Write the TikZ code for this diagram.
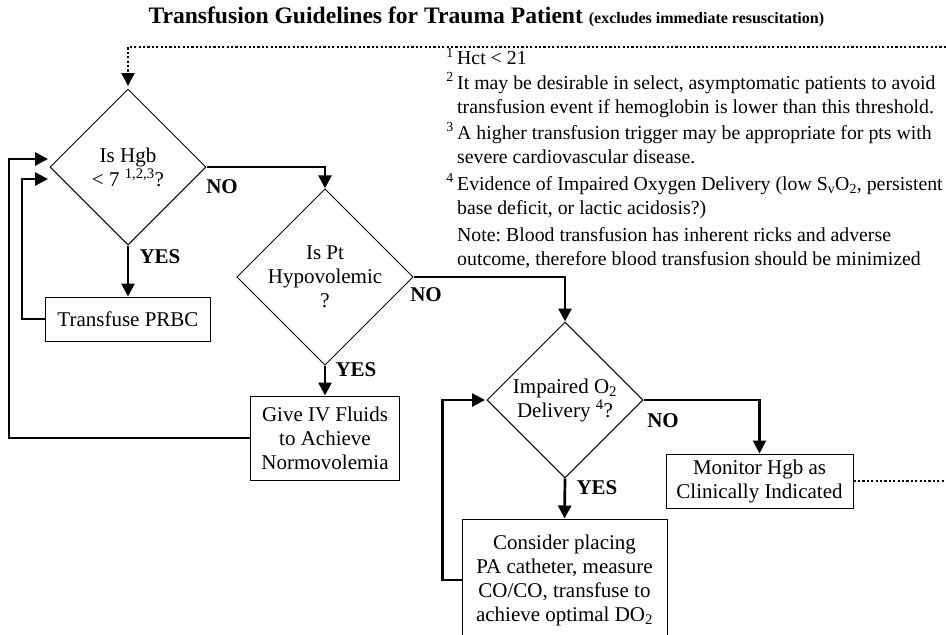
\documentclass[tikz,border=0pt]{standalone}
\usepackage{fontspec}
\setmainfont{Liberation Serif}
\usetikzlibrary{positioning, shapes.geometric, arrows.meta}
\tikzset{
    decision/.style={
        diamond,
        draw=black,
        line width=1pt, % thin outline
        aspect=1,
        minimum size=156pt,
        inner sep=0,
        align=center,
        font=\fontsize{21}{24}\selectfont
    },
    process/.style={
        rectangle,
        draw=black,
        line width=1pt,
        inner sep=0,
        align=center,
        font=\fontsize{21}{24}\selectfont
    },
    answer/.style={
        font=\bfseries\fontsize{21}{24}\selectfont
    },
    flow/.style={
        line width=2.7pt, % heavy connectors
        -{Triangle[length=13pt,width=13pt]}
    },
    dots/.style={
        line width=2.4pt,
        dash pattern=on 2.2pt off 2.2pt
    }
}

\begin{document}
\frenchspacing
\begin{tikzpicture}[x=1pt, y=-1pt]
            \useasboundingbox (0,0) rectangle (946,635);
            % title
            \node[anchor=west, font=\bfseries\fontsize{23.6}{24}\selectfont] (title) at (145,17)
                {Transfusion Guidelines for Trauma Patient {\fontsize{16}{16}\selectfont (excludes immediate resuscitation)}};
            % notes
            \node[anchor=north west, align=left, inner sep=0,
                  font=\fontsize{19.8}{24.5}\selectfont] (notes) at (457,48)
                {\llap{\textsuperscript{1}\,}Hct < 21\\[0pt]
                 \llap{\textsuperscript{2}\,}It may be desirable in select, asymptomatic patients to avoid\\
                 transfusion event if hemoglobin is lower than this threshold.\\[1pt]
                 \llap{\textsuperscript{3}\,}A higher transfusion trigger may be appropriate for pts with\\
                 severe cardiovascular disease.\\[2pt]
                 \llap{\textsuperscript{4}\,}Evidence of Impaired Oxygen Delivery (low S\textsubscript{v}O\textsubscript{2}, persistent\\
                 base deficit, or lactic acidosis?)\\[2pt]
                 Note: Blood transfusion has inherent ricks and adverse\\
                 outcome, therefore blood transfusion should be minimized};
            % decisions
            \node[decision] (hgb) at (128,167) {Is Hgb\\< 7 \textsuperscript{1,2,3}?};
            \node[decision] (hypo) at (325,277) {Is Pt\\Hypovolemic\\?};
            \node[decision] (oxy) at (565,400) {Impaired O\textsubscript{2}\\Delivery \textsuperscript{4}?};
            % actions
            \node[process, minimum width=165pt, minimum height=44pt] (prbc) at (128,319) {Transfuse PRBC};
            \node[process, minimum width=149pt, minimum height=84pt] (fluids) at (325,438)
                {Give IV Fluids\\to Achieve\\Normovolemia};
            \node[process, minimum width=187pt, minimum height=54pt] (monitor) at (759.5,481)
                {Monitor Hgb as\\Clinically Indicated};
            \node[process, minimum width=205pt, minimum height=122pt] (consider) at (564.5,580)
                {Consider placing\\PA catheter, measure\\CO/CO, transfuse to\\achieve optimal DO\textsubscript{2}};
            % answers
            \node[answer] (no1) at (222,187) {NO};
            \node[answer] (yes1) at (160,257) {YES};
            \node[answer] (no2) at (426,295) {NO};
            \node[answer] (yes2) at (356,370) {YES};
            \node[answer] (no3) at (663,421) {NO};
            \node[answer] (yes3) at (597,488) {YES};
            % loose ends
            \coordinate (in1) at (48,159);
            \coordinate (in2) at (48,179);
            \coordinate (in3) at (485,400);
            \coordinate (top) at (128,86);
            \coordinate (edge1) at (946,481);
            \coordinate (edge2) at (946,47);
            % connectors
            \draw[flow] (hgb.east) -| (hypo.north);
            \draw[flow] (hgb.south) -- (prbc.north);
            \draw[flow] (prbc.west) -- ++(-23,0) |- (in2);
            \draw[flow] (fluids.west) -- ++(-241,0) |- (in1);
            \draw[flow] (hypo.east) -| (oxy.north);
            \draw[flow] (hypo.south) -- (fluids.north);
            \draw[flow] (oxy.east) -| (monitor.north);
            \draw[flow] (oxy.south) -- (consider.north);
            \draw[flow] (consider.west) -- ++(-19,0) |- (in3);
            \draw[dots] (monitor.east) -- (edge1);
            \draw[dots, -{Triangle[length=13pt,width=13pt]}] (edge2) -| (top);
\end{tikzpicture}
\end{document}
